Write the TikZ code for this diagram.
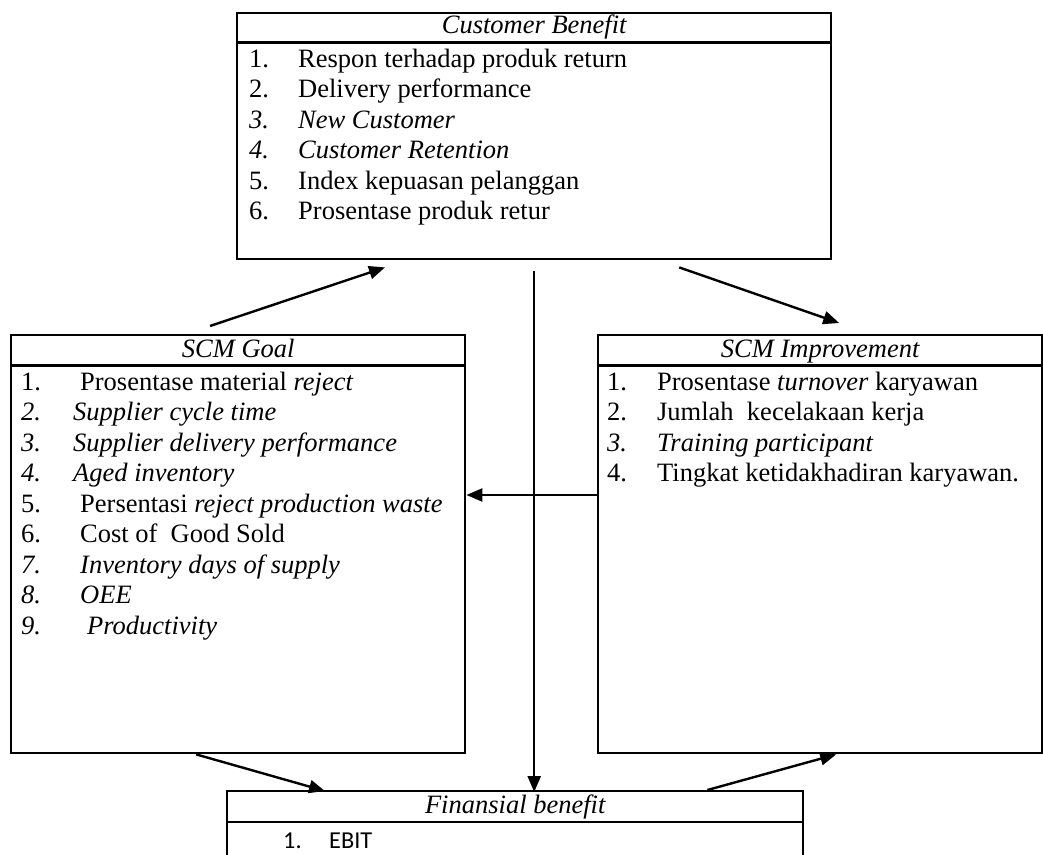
\documentclass[tikz,border=0pt]{standalone}
\usepackage{fontspec}
\setmainfont{Liberation Serif}
\newfontfamily\calibrifont{Carlito}
\usetikzlibrary{arrows.meta, positioning, calc}
\tikzset{
  sc box/.style={
    rectangle, draw=black, line width=2.4pt,
    inner sep=0pt, anchor=north west
  },
  sc head/.style={
    anchor=base, inner sep=0pt,
    font=\fontsize{26.5}{30}\selectfont\itshape
  },
  sc list/.style={
    anchor=base west, inner sep=0pt,
    font=\fontsize{26.5}{30.5}\selectfont
  },
  sc rule/.style={
    draw=black, line width=2.4pt
  },
  sc arrow/.style={
    -{Triangle[length=16pt, width=13pt]}, line width=2.4pt, draw=black
  }
}

\begin{document}
\begin{tikzpicture}[x=1pt, y=-1pt]
  \path[use as bounding box] (0,0) rectangle (1043,854);
  \clip (0,0) rectangle (1043,854);
  % Boxes: customer benefit on top, goal / improvement in the middle, financial below
  \node (cb) [sc box, minimum width=594pt, minimum height=246pt] at (236,12) {};
  \node (goal) [sc box, minimum width=454pt, minimum height=418pt] at (10,334) {};
  \node (impr) [sc box, minimum width=444pt, minimum height=418pt] at (597,334) {};
  \node (fin) [sc box, minimum width=576pt, minimum height=120pt] at (226,790) {};

  % Headers
  \node (cbhead) [sc head] at ($(cb.north)+(0,21.5)$) {Customer Benefit};
  \node (goalhead) [sc head] at ($(goal.north)+(0,23)$) {SCM Goal};
  \node (imprhead) [sc head] at ($(impr.north)+(0,23)$) {SCM Improvement};
  \node (finhead) [sc head] at ($(fin.north)+(0,23)$) {Finansial benefit};
  \draw [sc rule] ($(cb.north west)+(0,30.5)$) -- ($(cb.north east)+(0,30.5)$);
  \draw [sc rule] ($(goal.north west)+(0,31.5)$) -- ($(goal.north east)+(0,31.5)$);
  \draw [sc rule] ($(impr.north west)+(0,31.5)$) -- ($(impr.north east)+(0,31.5)$);
  \draw [sc rule] ($(fin.north west)+(0,32)$) -- ($(fin.north east)+(0,32)$);

  % Lists
  \node (cblist) [sc list] at ($(cb.north west)+(13,55)$) {%
    \begin{tabular}[t]{@{}p{49pt}@{}l@{}}
      1. & Respon terhadap produk return\\
      2. & Delivery performance\\
      \textit{3.} & \textit{New Customer}\\
      \textit{4.} & \textit{Customer Retention}\\
      5. & Index kepuasan pelanggan\\
      6. & Prosentase produk retur
    \end{tabular}};
  \node (goallist) [sc list] at ($(goal.north west)+(11,56)$) {%
    \begin{tabular}[t]{@{}p{52pt}@{}l@{}}
      1. & \hspace{7pt}Prosentase material \textit{reject}\\
      \textit{2.} & \textit{Supplier cycle time}\\
      \textit{3.} & \textit{Supplier delivery performance}\\
      \textit{4.} & \textit{Aged inventory}\\
      5. & \hspace{7pt}Persentasi \textit{reject production waste}\\
      6. & \hspace{7pt}Cost of\ \ Good Sold\\
      \textit{7.} & \hspace{7pt}\textit{Inventory days of supply}\\
      \textit{8.} & \hspace{7pt}\textit{OEE}\\
      \textit{9.} & \hspace{14pt}\textit{Productivity}
    \end{tabular}};
  \node (imprlist) [sc list] at ($(impr.north west)+(10,56)$) {%
    \begin{tabular}[t]{@{}p{50pt}@{}l@{}}
      1. & Prosentase \textit{turnover} karyawan\\
      2. & Jumlah\ \ kecelakaan kerja\\
      \textit{3.} & \textit{Training participant}\\
      4. & Tingkat ketidakhadiran karyawan.
    \end{tabular}};
  \node (finlist) [sc list, font=\fontsize{24.3}{29}\calibrifont] at ($(fin.north west)+(57,58)$) {%
    \begin{tabular}[t]{@{}p{46pt}@{}l@{}}
      1. & EBIT
    \end{tabular}};

  % Connector ends
  \coordinate (g2c) at ($(goal.north west)+(200,-8)$);
  \coordinate (c2g) at ($(cb.south west)+(149,7)$);
  \coordinate (c2i) at ($(cb.south)+(145,7)$);
  \coordinate (i2c) at ($(impr.north)+(19,-11)$);
  \coordinate (c2f) at ($(cb.south)+(0,11)$);
  \coordinate (i2g) at ($(impr.north west)+(0,161)$);
  \coordinate (g2f) at ($(goal.south)+(-42,0)$);
  \coordinate (f2g) at ($(fin.north west)+(99,1)$);
  \coordinate (f2i) at ($(fin.north east)+(-97,0)$);
  \coordinate (i2f) at ($(impr.south)+(16,0)$);

  \draw [sc arrow] (g2c) -- (c2g);
  \draw [sc arrow] (c2i) -- (i2c);
  \draw [sc arrow] (c2f) -- ($(c2f |- fin.north)+(0,2)$);
  \draw [sc arrow] (i2g) -- (i2g -| goal.east);
  \draw [sc arrow] (g2f) -- (f2g);
  \draw [sc arrow] (f2i) -- (i2f);
\end{tikzpicture}
\end{document}
